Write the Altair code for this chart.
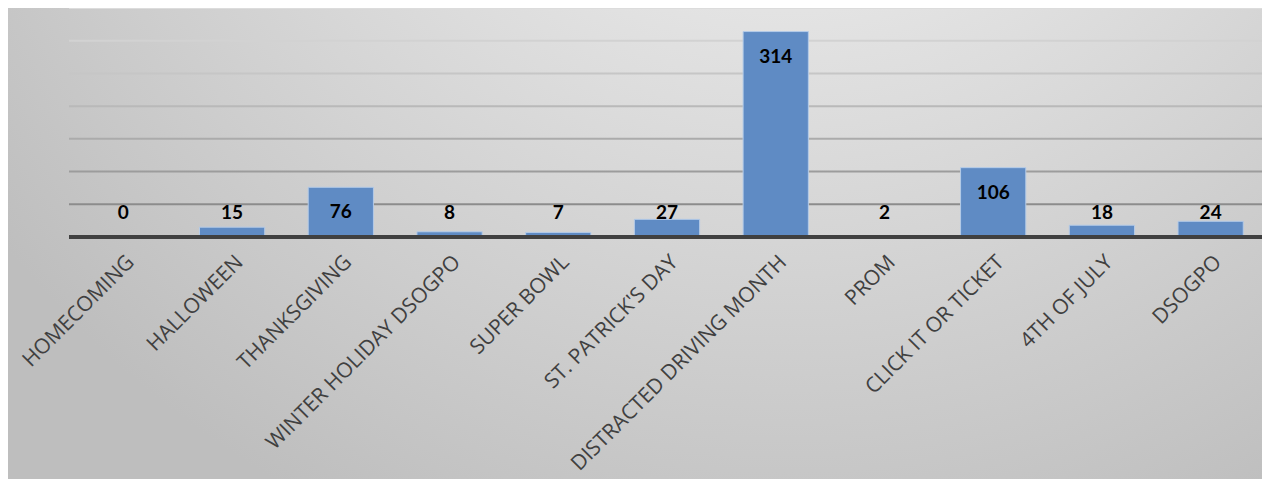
import altair as alt
import pandas as pd

categories = ["HOMECOMING", "HALLOWEEN", "THANKSGIVING", "WINTER HOLIDAY DSOGPO",
              "SUPER BOWL", "ST. PATRICK'S DAY", "DISTRACTED DRIVING MONTH", "PROM",
              "CLICK IT OR TICKET", "4TH OF JULY", "DSOGPO"]
values = [0, 15, 76, 8, 7, 27, 314, 2, 106, 18, 24]
grid_ticks = [50, 100, 150, 200, 250, 300, 350]
grid_colors = ["#8c8c8c", "#9c9c9c", "#ababab", "#b9b9b9", "#c6c6c6", "#d2d2d2", "#dcdcdc"]

df = pd.DataFrame({"cat": categories, "v": values})
gdf = pd.DataFrame({"t": grid_ticks, "c": grid_colors})

W, H = 1193, 229
RW = 1196
PL, PR, PB = 61, 0, 242

xenc = alt.X("cat:N", sort=categories,
             scale=alt.Scale(paddingInner=0.4, paddingOuter=0.2, range=[0, RW]),
             axis=alt.Axis(title=None, labelAngle=-45, labelFont="Open Sans",
                           labelFontSize=21, labelColor="#404040", ticks=False,
                           domain=False, labelPadding=14, labelLimit=400, zindex=2))
yscale = alt.Scale(domain=[0, 350])

bg = alt.Chart(pd.DataFrame({"a": [0]})).mark_rect(
    color=alt.Gradient(gradient="radial",
                       stops=[alt.GradientStop(offset=0, color="#fbfbfb"),
                              alt.GradientStop(offset=1, color="#bebebe")],
                       x1=0.62, y1=0.0, r1=0, x2=0.62, y2=0.0, r2=0.8)
).encode(x=alt.value(-PL), x2=alt.value(W + PR), y=alt.value(0), y2=alt.value(H + PB))

grid = alt.Chart(gdf).mark_rule(strokeWidth=2).encode(
    y=alt.Y("t:Q", scale=yscale, axis=None),
    x=alt.value(0), x2=alt.value(RW),
    color=alt.Color("c:N", scale=None)
)

bars = alt.Chart(df).mark_bar(color="#5f8bc4", stroke="#b4cbe8", strokeWidth=1).encode(
    x=xenc,
    y=alt.Y("v:Q", scale=yscale, axis=None)
)

base = alt.Chart(df).mark_rule(color="#404040", strokeWidth=3).encode(
    y=alt.datum(0, scale=yscale), x=alt.value(0), x2=alt.value(RW)
)

labels = alt.Chart(df).transform_calculate(
    ly="max(datum.v, 75)"
).mark_text(font="Lato", fontWeight="bold", fontSize=19, color="#000000",
            dy=25, baseline="middle").encode(
    x=alt.X("cat:N", sort=categories),
    y=alt.Y("ly:Q", scale=yscale),
    text=alt.Text("v:Q")
)

chart = alt.layer(bg, grid, bars, base, labels).properties(
    width=W, height=H,
    autosize=alt.AutoSizeParams(type="none"),
    padding={"left": PL, "top": 0, "right": PR, "bottom": PB}
).configure_view(stroke=None).configure(background="#ffffff")

chart.save("out.html", embed_options={"renderer": "svg", "actions": False})
